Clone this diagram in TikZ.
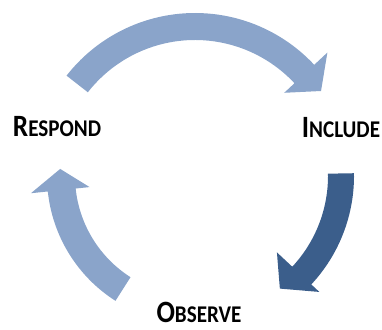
\documentclass[tikz,border=0pt]{standalone}
\usepackage{fontspec}
\setmainfont{Carlito}[FakeStretch=0.88]
\usetikzlibrary{positioning}

\definecolor{lightarrow}{RGB}{138,164,202}
\definecolor{darkarrow}{RGB}{59,94,139}

% #1 colour, #2 start, #3 end, #4 tip angle, #5 inner r, #6 outer r, #7 wing in, #8 wing out, #9 tip r
\newcommand\cyclearrow[9]{
  \fill[#1] (#2:#6) arc (#2:#3:#6) -- (#3:#8) -- (#4:#9) -- (#3:#7) -- (#3:#5) arc (#3:#2:#5) -- cycle;
}

\tikzset{
  step label/.style={font=\bfseries\fontsize{31}{31}\selectfont, inner sep=0pt, anchor=base},
}
\newcommand\smallcap[2]{#1{\fontsize{24}{24}\selectfont #2}}

\begin{document}
\begin{tikzpicture}[x=1pt,y=1pt]
\useasboundingbox (0,0) rectangle (382,329);

\begin{scope}[shift={(195,153)}]
\cyclearrow{lightarrow}{142}{43}{34}{136}{163}{122}{181}{152}
\cyclearrow{darkarrow}{1}{-43}{-53}{133}{159}{112}{170}{141}
\cyclearrow{lightarrow}{237.5}{186}{177}{120}{148}{106}{165}{135}
\end{scope}

\node[step label] (respond) at (57,192) {\smallcap{R}{ESPOND}};
\node[step label] (include) at (341,191) {\smallcap{I}{NCLUDE}};
\node[step label] (observe) at (199,6.5) {\smallcap{O}{BSERVE}};
\end{tikzpicture}
\end{document}
